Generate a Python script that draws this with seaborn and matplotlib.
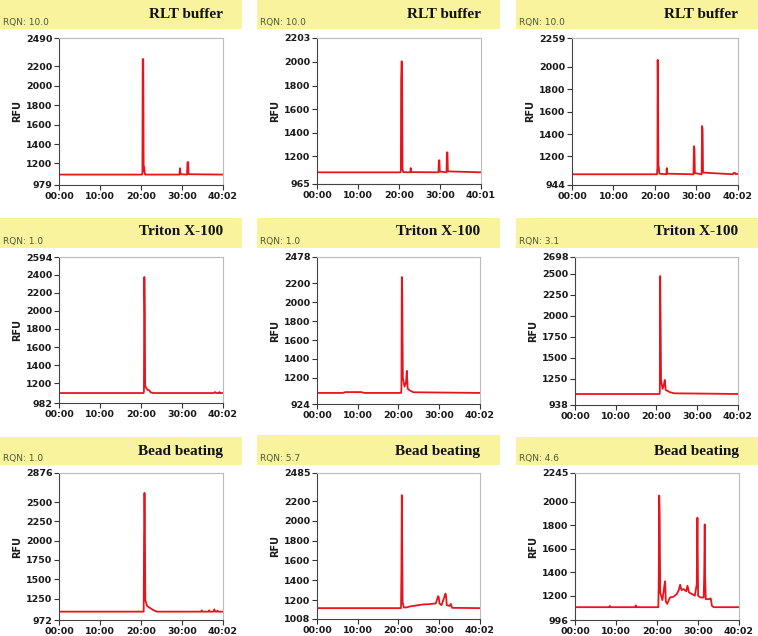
import matplotlib
matplotlib.use("Agg")
import matplotlib.pyplot as plt
import seaborn as sns
import pandas as pd
from matplotlib.patches import Rectangle
from matplotlib.ticker import FixedLocator, MultipleLocator

sns.set_style("white")
plt.rcParams['font.family'] = ['DejaVu Sans']

# ---------------- data (time in seconds, RFU) ----------------
titles = ["RLT buffer", "RLT buffer", "RLT buffer",
          "Triton X-100", "Triton X-100", "Triton X-100",
          "Bead beating", "Bead beating", "Bead beating"]
rqn = ["RQN: 10.0", "RQN: 10.0", "RQN: 10.0",
       "RQN: 1.0", "RQN: 1.0", "RQN: 3.1",
       "RQN: 1.0", "RQN: 5.7", "RQN: 4.6"]
x_end_labels = ["40:02", "40:01", "40:02", "40:02", "40:02", "40:02", "40:02", "40:02", "40:02"]
x_end = [2402, 2401, 2402, 2402, 2402, 2402, 2402, 2402, 2402]
y_min = [979, 965, 944, 982, 924, 938, 972, 1008, 996]
y_max = [2490, 2203, 2259, 2594, 2478, 2698, 2876, 2485, 2245]
y_step = [200, 200, 200, 200, 200, 250, 250, 200, 200]

t1 = [0, 1215, 1222, 1226, 1234, 1240, 1248, 1256, 1262, 1765, 1772, 1780, 1875, 1882, 1892, 1898, 2402]
v1 = [1086, 1086, 1100, 2273, 2273, 1120, 1162, 1095, 1086, 1086, 1152, 1090, 1086, 1214, 1214, 1090, 1086]

t2 = [0, 1222, 1228, 1232, 1240, 1246, 1252, 1262, 1366, 1372, 1378, 1778, 1784, 1792, 1798, 1896, 1902, 1910, 1916, 2401]
v2 = [1064, 1064, 1080, 1860, 2005, 1860, 1090, 1066, 1064, 1101, 1066, 1064, 1166, 1166, 1070, 1064, 1233, 1233, 1072, 1064]

t3 = [0, 1230, 1236, 1240, 1246, 1250, 1256, 1264, 1366, 1371, 1378, 1758, 1764, 1772, 1778, 1876, 1882, 1890, 1896, 2330, 2340, 2360, 2370, 2402]
v3 = [1040, 1040, 1104, 2063, 1616, 1104, 1104, 1045, 1040, 1095, 1045, 1040, 1291, 1270, 1050, 1040, 1472, 1440, 1055, 1040, 1052, 1052, 1040, 1045]

t4 = [0, 1238, 1244, 1250, 1256, 1262, 1275, 1300, 1324, 1340, 1382, 2270, 2285, 2300, 2340, 2350, 2360, 2402]
v4 = [1092, 1092, 1110, 2373, 1994, 1177, 1150, 1125, 1122, 1100, 1092, 1092, 1103, 1092, 1092, 1103, 1092, 1092]

t5 = [0, 380, 420, 650, 700, 1238, 1244, 1250, 1256, 1265, 1290, 1312, 1324, 1336, 1360, 1420, 2402]
v5 = [1041, 1041, 1050, 1050, 1041, 1041, 1080, 2266, 2107, 1203, 1108, 1150, 1274, 1088, 1070, 1048, 1041]

t6 = [0, 1244, 1250, 1255, 1262, 1268, 1290, 1310, 1323, 1336, 1400, 1461, 2402]
v6 = [1069, 1069, 1090, 2472, 1900, 1236, 1129, 1180, 1236, 1117, 1090, 1077, 1069]

t7 = [0, 1240, 1246, 1252, 1258, 1264, 1290, 1330, 1380, 1433, 2080, 2090, 2100, 2190, 2200, 2210, 2260, 2275, 2290, 2310, 2320, 2330, 2402]
v7 = [1080, 1080, 2066, 2618, 2200, 1230, 1153, 1130, 1101, 1080, 1080, 1097, 1080, 1080, 1097, 1080, 1080, 1110, 1080, 1080, 1093, 1080, 1080]

t8 = [0, 1238, 1244, 1250, 1256, 1262, 1280, 1320, 1370, 1560, 1650, 1750, 1785, 1794, 1805, 1835, 1893, 1902, 1912, 1955, 1971, 1990, 2402]
v8 = [1118, 1118, 1490, 2261, 1700, 1175, 1125, 1125, 1135, 1155, 1158, 1165, 1239, 1230, 1165, 1148, 1265, 1240, 1148, 1140, 1161, 1121, 1118]

t9 = [0, 500, 510, 520, 880, 890, 900, 1220, 1226, 1233, 1240, 1248, 1280, 1312, 1320, 1330, 1350, 1390, 1440, 1490, 1520, 1540, 1560, 1590, 1630, 1647,
      1670, 1715, 1755, 1783, 1793, 1803, 1840, 1885, 1893, 1900, 1906, 1915, 1965, 1988, 2005, 2030, 2402]
v9 = [1105, 1105, 1115, 1105, 1105, 1120, 1105, 1105, 1300, 2053, 1893, 1230, 1165, 1300, 1325, 1153, 1133, 1187, 1193, 1216, 1250, 1296, 1250, 1259, 1240, 1288,
      1230, 1216, 1202, 1300, 1865, 1202, 1187, 1187, 1400, 1808, 1359, 1173, 1173, 1180, 1117, 1105, 1105]

series_t = [t1, t2, t3, t4, t5, t6, t7, t8, t9]
series_v = [v1, v2, v3, v4, v5, v6, v7, v8, v9]

# ---------------- layout (pixels) ----------------
W, H = 758, 636
axes_px = [(59, 38, 223, 185), (317, 38, 481, 184), (572, 38, 738, 185),
           (59, 257, 223, 403), (317, 257, 480, 404), (575, 257, 738, 405),
           (59, 473, 223, 620), (317, 473, 480, 619), (575, 473, 739, 620)]
header_px = [(0, 0, 242, 29), (257, 0, 500, 29), (516, 0, 758, 29),
             (0, 218, 242, 248), (257, 218, 500, 248), (516, 218, 758, 248),
             (0, 437, 242, 465), (257, 435, 500, 465), (516, 437, 758, 465)]
title_y = [15, 15, 15, 232, 232, 232, 452, 451, 452]
rqn_y = [23, 23, 23, 241, 241, 241, 458, 458, 458]

fig = plt.figure(figsize=(W / 100, H / 100), dpi=100)
fig.patch.set_facecolor("white")

YELLOW = "#F9F39E"
RED = "#E8141C"

for i in range(9):
    hx0, hy0, hx1, hy1 = header_px[i]
    fig.patches.append(Rectangle((hx0 / W, 1 - hy1 / H), (hx1 - hx0) / W, (hy1 - hy0) / H,
                                 transform=fig.transFigure, facecolor=YELLOW, edgecolor="none", zorder=0))
    l, t, r, b = axes_px[i]
    ax = fig.add_axes([l / W, 1 - b / H, (r - l) / W, (b - t) / H])
    df = pd.DataFrame({"time": series_t[i], "RFU": series_v[i]})
    sns.lineplot(data=df, x="time", y="RFU", ax=ax, color=RED, linewidth=1.3,
                 estimator=None, sort=False)
    ax.set_xlim(0, x_end[i])
    ax.set_ylim(y_min[i], y_max[i])
    ax.set_xticks([0, 600, 1200, 1800, x_end[i]])
    ax.set_xticklabels(["00:00", "10:00", "20:00", "30:00", x_end_labels[i]])
    step = y_step[i]
    first = (y_min[i] // step + 1) * step
    if first - y_min[i] < step * 0.45:
        first += step
    majors = [v for v in range(int(first), int(y_max[i]), step) if y_max[i] - v > step * 0.55]
    yt = [y_min[i]] + majors + [y_max[i]]
    ax.set_yticks(yt)
    ax.set_yticklabels([str(v) for v in yt])
    if i == 6:
        ax.yaxis.set_minor_locator(FixedLocator([1000, 2750]))
    else:
        ax.yaxis.set_minor_locator(MultipleLocator(step / 5))
    ax.tick_params(axis="both", which="major", direction="out", length=3.5, width=0.8,
                   labelsize=6.8, pad=1.2, colors="#333333", labelcolor="#1a1a1a")
    ax.tick_params(axis="y", which="minor", direction="out", length=2, width=0.6, colors="#666666")
    ax.tick_params(left=True, bottom=True)
    for lab in ax.get_xticklabels() + ax.get_yticklabels():
        lab.set_fontweight("bold")
    ax.set_xlabel("")
    ax.set_ylabel("RFU", fontsize=7, fontweight="bold", color="#1a1a1a")
    ax.yaxis.set_label_coords(-37 / (r - l), 0.5)
    for s in ["left", "bottom"]:
        ax.spines[s].set_color("#444444")
        ax.spines[s].set_linewidth(0.8)
    for s in ["top", "right"]:
        ax.spines[s].set_color("#bbbbbb")
        ax.spines[s].set_linewidth(0.8)
    ax.set_facecolor("white")
    fig.text(r / W, 1 - title_y[i] / H, titles[i], ha="right", va="center",
             fontsize=11, fontweight="bold", family="Liberation Serif", color="#111111")
    fig.text((hx0 + 3) / W, 1 - rqn_y[i] / H, rqn[i], ha="left", va="center",
             fontsize=6.5, color="#4d5a3a")

fig.savefig("out.png", dpi=100, facecolor="white")
